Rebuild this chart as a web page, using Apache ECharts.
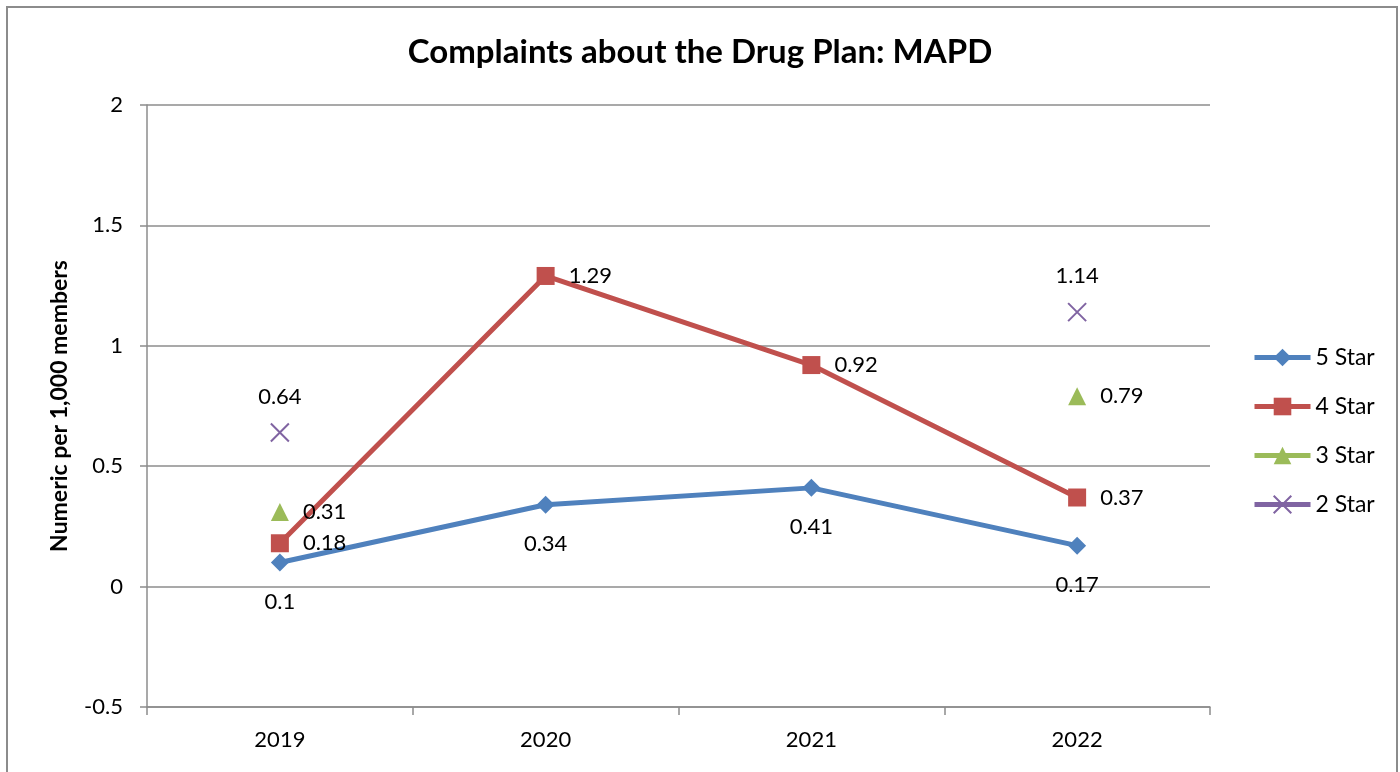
<!DOCTYPE html>
<html>
<head>
<meta charset="utf-8">
<script src="https://cdn.jsdelivr.net/npm/echarts@6/dist/echarts.min.js"></script>
<style>html,body{margin:0;padding:0;background:#fff}#c{width:1400px;height:772px}</style>
</head>
<body>
<div id="c"></div>
<script>
var categories = ['2019', '2020', '2021', '2022'];
var star5 = [0.1, 0.34, 0.41, 0.17];
var star4 = [0.18, 1.29, 0.92, 0.37];
var star3 = [0.31, null, null, 0.79];
var star2 = [0.64, null, null, 1.14];
var yTicks = { min: -0.5, max: 2, interval: 0.5 };

var FONT = 'Lato, "Open Sans", sans-serif';
var GREY = '#8c8c8c';
var chart = echarts.init(document.getElementById('c'), null, { renderer: 'canvas' });

function mk(name, data, color, symbol, pos, dist, extra) {
  var s = {
    name: name, type: 'line', data: data.map(function (v) { return v === null ? '-' : v; }),
    connectNulls: false, symbol: symbol, symbolSize: 18,
    lineStyle: { color: color, width: 5 },
    itemStyle: { color: color },
    label: { show: true, position: pos, distance: dist, color: '#000', fontSize: 22, fontFamily: FONT },
    z: 3
  };
  if (extra) Object.assign(s, extra);
  return s;
}

var xPath = 'path://M0,0L20,20M20,0L0,20';
var legendLine = { width: 5 };

chart.setOption({
  animation: false,
  backgroundColor: '#fff',
  title: {
    text: 'Complaints about the Drug Plan: MAPD', left: 'center', top: 31,
    textStyle: { fontSize: 33, fontWeight: 'bold', color: '#000', fontFamily: FONT }
  },
  graphic: [{
    type: 'rect', shape: { x: 7, y: 7, width: 1390, height: 800 },
    style: { fill: 'none', stroke: GREY, lineWidth: 2 }, z: -1
  }],
  legend: {
    orient: 'vertical', left: 1247, top: 341, itemGap: 26, itemWidth: 56, itemHeight: 22,
    textStyle: { fontSize: 23, color: '#000', fontFamily: FONT },
    data: [
      { name: '5 Star', lineStyle: legendLine },
      { name: '4 Star', lineStyle: legendLine },
      { name: '3 Star', lineStyle: legendLine },
      { name: '2 Star', lineStyle: legendLine }
    ]
  },
  grid: { left: 147, right: 190, top: 105, bottom: 65 },
  xAxis: {
    type: 'category', data: categories, boundaryGap: true,
    axisLine: { onZero: false, lineStyle: { color: GREY, width: 1.5 } },
    axisTick: { show: true, length: 8, alignWithLabel: false, lineStyle: { color: GREY, width: 1.5 } },
    axisLabel: { fontSize: 22, color: '#000', margin: 22, fontFamily: FONT }
  },
  yAxis: {
    type: 'value', min: yTicks.min, max: yTicks.max, interval: yTicks.interval,
    name: 'Numeric per 1,000 members', nameLocation: 'middle', nameGap: 76, nameRotate: 90,
    nameTextStyle: { fontSize: 23, fontWeight: 'bold', color: '#000', fontFamily: FONT },
    axisLine: { show: true, lineStyle: { color: GREY, width: 1.5 } },
    axisTick: { show: true, length: 7, lineStyle: { color: GREY, width: 1.5 } },
    splitLine: { show: true, lineStyle: { color: GREY, width: 1.5 } },
    axisLabel: { fontSize: 22, color: '#000', margin: 24, fontFamily: FONT }
  },
  series: [
    mk('5 Star', star5, '#4F81BD', 'diamond', 'bottom', 19),
    mk('4 Star', star4, '#C0504D', 'rect', 'right', 14),
    mk('3 Star', star3, '#9BBB59', 'triangle', 'right', 14),
    mk('2 Star', star2, '#8064A2', xPath, 'top', 15, {
      itemStyle: { color: '#8064A2', borderColor: '#8064A2', borderWidth: 2 }
    })
  ]
});
</script>
</body>
</html>
